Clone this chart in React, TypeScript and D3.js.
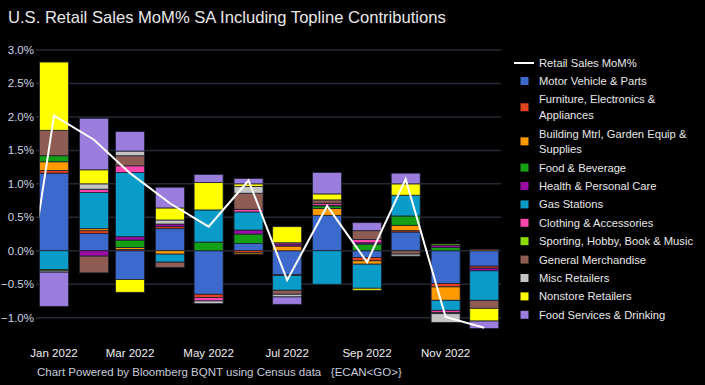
import React, { useEffect, useRef } from 'react';
import * as d3 from 'd3';

// months of 2022 (bars), values in % contribution to topline MoM
const MONTHS = [
  '2022-01-01', '2022-02-01', '2022-03-01', '2022-04-01', '2022-05-01', '2022-06-01',
  '2022-07-01', '2022-08-01', '2022-09-01', '2022-10-01', '2022-11-01', '2022-12-01'
];

const SECTORS = [
  'Motor Vehicle & Parts',
  'Furniture, Electronics & Appliances',
  'Building Mtrl, Garden Equip & Supplies',
  'Food & Beverage',
  'Health & Personal Care',
  'Gas Stations',
  'Clothing & Accessories',
  'Sporting, Hobby, Book & Music',
  'General Merchandise',
  'Misc Retailers',
  'Nonstore Retailers',
  'Food Services & Drinking'
];

const LEGEND_LINES = [
  ['Motor Vehicle & Parts'],
  ['Furniture, Electronics &', 'Appliances'],
  ['Building Mtrl, Garden Equip &', 'Supplies'],
  ['Food & Beverage'],
  ['Health & Personal Care'],
  ['Gas Stations'],
  ['Clothing & Accessories'],
  ['Sporting, Hobby, Book & Music'],
  ['General Merchandise'],
  ['Misc Retailers'],
  ['Nonstore Retailers'],
  ['Food Services & Drinking']
];

const COLORS = [
  '#3b69cc', '#e2421e', '#ff9a00', '#14a014', '#9c0ca4', '#0a9cc8',
  '#ff46ae', '#8cdc00', '#8e5c52', '#c4c4c4', '#ffff00', '#9b7ddd'
];

const MOTOR = [1.16, 0.26, -0.43, 0.33, -0.65, 0.11, -0.36, 0.53, -0.10, 0.28, -0.49, -0.23];
const FURNITURE = [0.04, 0.04, 0.02, 0.03, -0.05, -0.03, -0.01, 0, -0.05, 0.02, -0.05, -0.03];
const BUILDING = [0.13, 0.03, 0.03, -0.05, 0, -0.02, 0.07, 0.10, -0.05, 0.08, -0.20, 0.02];
const FOOD_BEV = [0.09, 0, 0.11, 0, 0.13, 0.14, 0, 0.04, 0.10, 0.14, 0.05, 0];
const HEALTH = [0, -0.08, 0.05, 0.04, 0, 0.06, 0.03, 0.01, 0.02, 0, 0.03, -0.04];
const GAS = [-0.28, 0.54, 0.96, -0.12, 0.48, 0.27, -0.22, -0.50, -0.36, 0.31, -0.15, -0.44];
const CLOTHING = [0, 0.05, 0.10, 0, -0.05, 0.04, 0.02, 0.03, 0.05, 0, -0.03, 0];
const SPORTING = [-0.02, 0, 0, 0, 0, 0, 0, 0, 0, 0, 0.02, 0];
const GEN_MERCH = [0.38, -0.25, 0.15, -0.08, 0, 0.24, -0.06, 0.05, 0.13, -0.05, -0.02, -0.12];
const MISC = [-0.02, 0.08, 0.07, 0.06, -0.04, 0.10, -0.04, 0, 0, -0.03, -0.13, 0];
const NONSTORE = [1.02, 0.21, -0.19, 0.18, 0.41, 0.04, 0.24, 0.09, -0.03, 0.17, 0, -0.19];
const FOOD_SERV = [-0.51, 0.77, 0.29, 0.31, 0.12, 0.08, -0.11, 0.32, 0.12, 0.16, 0, -0.11];

const SERIES = [
  MOTOR, FURNITURE, BUILDING, FOOD_BEV, HEALTH, GAS,
  CLOTHING, SPORTING, GEN_MERCH, MISC, NONSTORE, FOOD_SERV
];

// headline retail sales MoM%, starts one month before the bars (clipped)
const RETAIL_DATES = ['2021-12-01', ...MONTHS];
const RETAIL_MOM = [-1.9, 2.02, 1.66, 1.16, 0.71, 0.36, 1.05, -0.44, 0.67, -0.17, 1.07, -0.99, -1.15];

const Y_TICKS = [3.0, 2.5, 2.0, 1.5, 1.0, 0.5, 0.0, -0.5, -1.0];
const X_TICKS = ['2022-01-01', '2022-03-01', '2022-05-01', '2022-07-01', '2022-09-01', '2022-11-01'];

export default function App(): JSX.Element {
  const svgRef = useRef<SVGSVGElement>(null);

  useEffect(() => {
    const svgEl = svgRef.current;
    if (svgEl == null) {
      return;
    }
    const svg = d3.select(svgEl);
    svg.selectAll('*').remove();

    const FONT = '"Liberation Sans", Arial, sans-serif';
    const parse = d3.timeParse('%Y-%m-%d');
    const months = MONTHS.map((d) => parse(d) as Date);

    const plotLeft = 36;
    const plotRight = 501;
    const barWidth = 29;

    const x = d3
      .scaleTime()
      .domain([new Date(2021, 11, 18), new Date(2022, 11, 14)])
      .range([plotLeft, plotRight]);
    const y = d3.scaleLinear().domain([-1, 3]).range([317.7, 50]);

    svg.append('rect').attr('width', 705).attr('height', 385).attr('fill', '#000');

    // title
    svg
      .append('text')
      .attr('x', 8)
      .attr('y', 23)
      .attr('fill', '#e8e8e8')
      .attr('font-family', FONT)
      .attr('font-size', 16.6)
      .text('U.S. Retail Sales MoM% SA Including Topline Contributions');

    // gridlines
    svg
      .append('g')
      .selectAll('line')
      .data(Y_TICKS)
      .enter()
      .append('line')
      .attr('x1', plotLeft)
      .attr('x2', plotRight)
      .attr('y1', (d) => y(d))
      .attr('y2', (d) => y(d))
      .attr('stroke', '#232a35')
      .attr('stroke-width', 1.5);

    // y labels
    svg
      .append('g')
      .selectAll('text')
      .data(Y_TICKS)
      .enter()
      .append('text')
      .attr('x', 34)
      .attr('y', (d) => y(d) + 4)
      .attr('text-anchor', 'end')
      .attr('fill', '#cdd5e4')
      .attr('font-family', FONT)
      .attr('font-size', 11.5)
      .text((d) => d3.format('.1f')(d).replace('-', '\u2212') + '%');

    // stacked bars
    const rows = months.map((m, i) => {
      const row: { [k: string]: number | Date } = { date: m };
      SECTORS.forEach((s, j) => {
        row[s] = SERIES[j][i];
      });
      return row;
    });
    const stack = d3
      .stack<{ [k: string]: number | Date }>()
      .keys(SECTORS)
      .value((d, key) => d[key] as number)
      .order(d3.stackOrderNone)
      .offset(d3.stackOffsetDiverging);
    const stacked = stack(rows);

    const barsG = svg.append('g');
    stacked.forEach((layer, j) => {
      barsG
        .append('g')
        .attr('fill', COLORS[j])
        .selectAll('rect')
        .data(layer.filter((d) => d[1] - d[0] !== 0))
        .enter()
        .append('rect')
        .attr('x', (d) => x(d.data.date as Date) - barWidth / 2)
        .attr('width', barWidth)
        .attr('y', (d) => y(Math.max(d[0], d[1])))
        .attr('height', (d) => Math.abs(y(d[0]) - y(d[1])))
        .attr('stroke', '#1d2230')
        .attr('stroke-width', 0.8);
    });

    // retail sales line, clipped to the plotting area
    const clipLeft = x(months[0]) - barWidth / 2;
    svg
      .append('clipPath')
      .attr('id', 'plot-clip')
      .append('rect')
      .attr('x', clipLeft)
      .attr('y', 0)
      .attr('width', plotRight - clipLeft)
      .attr('height', 385);
    const linePts = RETAIL_DATES.map((d, i) => ({ date: parse(d) as Date, v: RETAIL_MOM[i] }));
    svg
      .append('path')
      .datum(linePts)
      .attr('clip-path', 'url(#plot-clip)')
      .attr('fill', 'none')
      .attr('stroke', '#ffffff')
      .attr('stroke-width', 2)
      .attr(
        'd',
        d3
          .line<{ date: Date; v: number }>()
          .x((d) => x(d.date))
          .y((d) => y(d.v))
      );

    // x labels
    svg
      .append('g')
      .selectAll('text')
      .data(X_TICKS.map((d) => parse(d) as Date))
      .enter()
      .append('text')
      .attr('x', (d) => x(d))
      .attr('y', 357)
      .attr('text-anchor', 'middle')
      .attr('fill', '#f0f0f0')
      .attr('font-family', FONT)
      .attr('font-size', 11.5)
      .text((d) => d3.timeFormat('%b %Y')(d));

    // footer
    svg
      .append('text')
      .attr('x', 37)
      .attr('y', 376)
      .attr('fill', '#c5ccd8')
      .attr('font-family', FONT)
      .attr('font-size', 11.5)
      .attr('xml:space', 'preserve')
      .text('Chart Powered by Bloomberg BQNT using Census data   {ECAN<GO>}');

    // legend
    const lg = svg.append('g').attr('font-family', FONT).attr('font-size', 11.2).attr('fill', '#e8e8e8');
    lg.append('line')
      .attr('x1', 514)
      .attr('x2', 534)
      .attr('y1', 63)
      .attr('y2', 63)
      .attr('stroke', '#fff')
      .attr('stroke-width', 2);
    lg.append('text').attr('x', 539).attr('y', 67).text('Retail Sales MoM%');

    let cursor = 81;
    LEGEND_LINES.forEach((lines, j) => {
      const first = cursor;
      lines.forEach((ln, k) => {
        lg.append('text')
          .attr('x', 539)
          .attr('y', cursor + 4)
          .text(ln);
        if (k < lines.length - 1) {
          cursor += 15.7;
        }
      });
      const mid = (first + cursor) / 2;
      lg.append('rect')
        .attr('x', 520.5)
        .attr('y', mid - 4)
        .attr('width', 8)
        .attr('height', 8)
        .attr('fill', COLORS[j]);
      cursor += 18.4;
    });
  });

  return (
    <div style={{ position: 'fixed', left: 0, top: 0, width: 705, height: 385, background: '#000' }}>
      <svg ref={svgRef} width={705} height={385} style={{ display: 'block' }} />
    </div>
  );
}
